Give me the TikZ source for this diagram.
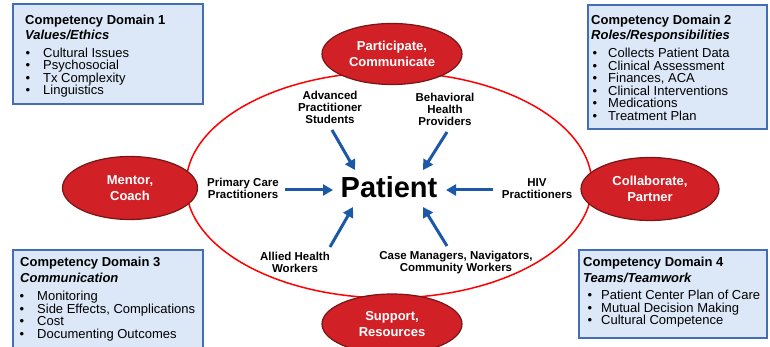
\documentclass[tikz,border=0pt]{standalone}
\usepackage{fontspec}
\setmainfont{Liberation Sans}
\usetikzlibrary{shapes.geometric,arrows.meta}
\definecolor{boxfill}{RGB}{220,232,248}
\definecolor{boxline}{RGB}{68,110,180}
\definecolor{redfill}{RGB}{210,32,39}
\definecolor{redline}{RGB}{120,22,22}
\definecolor{ringred}{RGB}{255,0,0}
\definecolor{arrblue}{RGB}{28,88,168}
\begin{document}
\begin{tikzpicture}[x=1pt,y=-1pt,
  dombox/.style={draw=boxline,fill=boxfill,line width=2pt,anchor=north west,inner sep=0pt},
  dtitle/.style={anchor=base west,inner sep=0pt,font=\fontsize{13}{15}\selectfont\bfseries},
  dsub/.style={anchor=base west,inner sep=0pt,font=\fontsize{13}{15}\selectfont\bfseries\itshape},
  ditem/.style={anchor=base west,inner sep=0pt,font=\fontsize{13}{15}\selectfont},
  dbul/.style={anchor=base,inner sep=0pt,font=\fontsize{13}{15}\selectfont},
  redell/.style={ellipse,draw=redline,fill=redfill,line width=1.2pt,text=white,
    align=center,inner sep=0pt,font=\fontsize{13}{16}\selectfont\bfseries},
  lbl/.style={align=center,inner sep=0pt,font=\fontsize{11.5}{12}\selectfont\bfseries},
  arr/.style={draw=arrblue,line width=3pt,-{Triangle[length=10pt,width=11pt]}}
]
\useasboundingbox (0,0) rectangle (770,347);
\clip (0,0) rectangle (770,347);
\fill[white] (0,0) rectangle (770,347);

% central ring
\node[ellipse,draw=ringred,line width=1.5pt,minimum width=406pt,minimum height=226pt,inner sep=0pt] (ring) at (389,185) {};

% red ellipses
\node[redell,minimum width=140pt,minimum height=61pt] (part) at (392,54) {Participate,\\Communicate};
\node[redell,minimum width=135pt,minimum height=63pt] (mentor) at (130,188) {Mentor,\\Coach};
\node[redell,minimum width=138pt,minimum height=63pt] (collab) at (650,189) {Collaborate,\\Partner};
\node[redell,minimum width=140pt,minimum height=60pt] (support) at (392,324) {Support,\\Resources};

% domain boxes
\node[dombox,minimum width=190pt,minimum height=100pt] (d1) at (12,3) {};
\node[dombox,minimum width=179pt,minimum height=124pt] (d2) at (587,4) {};
\node[dombox,minimum width=190pt,minimum height=110pt] (d3) at (12,249) {};
\node[dombox,minimum width=188pt,minimum height=88pt] (d4) at (578,249) {};

% box 1
\node[dtitle] (d1t) at (25,24.5) {Competency Domain 1};
\node[dsub] (d1s) at (25,40) {Values/Ethics};
\foreach \t [count=\i] in {Cultural Issues,Psychosocial,Tx Complexity,Linguistics}{
  \pgfmathsetmacro\yy{57.5+12.5*(\i-1)}
  \node[dbul] (d1b\i) at (28,\yy) {•};
  \node[ditem] (d1i\i) at (43,\yy) {\t};
}
% box 2
\node[dtitle] (d2t) at (591,24.5) {Competency Domain 2};
\node[dsub] (d2s) at (591,40) {Roles/Responsibilities};
\foreach \t [count=\i] in {Collects Patient Data,Clinical Assessment,{Finances, ACA},Clinical Interventions,Medications,Treatment Plan}{
  \pgfmathsetmacro\yy{57.5+12.6*(\i-1)}
  \node[dbul] (d2b\i) at (595,\yy) {•};
  \node[ditem] (d2i\i) at (608,\yy) {\t};
}
% box 3
\node[dtitle] (d3t) at (20,266.5) {Competency Domain 3};
\node[dsub] (d3s) at (20,282) {Communication};
\foreach \t [count=\i] in {Monitoring,{Side Effects, Complications},Cost,Documenting Outcomes}{
  \pgfmathsetmacro\yy{300.5+12.6*(\i-1)}
  \node[dbul] (d3b\i) at (22,\yy) {•};
  \node[ditem] (d3i\i) at (37,\yy) {\t};
}
% box 4
\node[dtitle] (d4t) at (583,266.5) {Competency Domain 4};
\node[dsub] (d4s) at (583,282) {Teams/Teamwork};
\foreach \t [count=\i] in {Patient Center Plan of Care,Mutual Decision Making,Cultural Competence}{
  \pgfmathsetmacro\yy{299.5+12.6*(\i-1)}
  \node[dbul] (d4b\i) at (590,\yy) {•};
  \node[ditem] (d4i\i) at (601,\yy) {\t};
}

% patient
\node[anchor=base,inner sep=0pt,font=\fontsize{29}{32}\selectfont\bfseries] (patient) at (389,198) {Patient};

% provider labels
\node[lbl] (aps) at (330,107) {Advanced\\Practitioner\\Students};
\node[lbl] (bhp) at (445,109) {Behavioral\\Health\\Providers};
\node[lbl] (pcp) at (243,188) {Primary Care\\Practitioners};
\node[lbl] (hiv) at (537,188.5) {HIV\\Practitioners};
\node[lbl] (ahw) at (295,262.5) {Allied Health\\Workers};
\node[lbl] (cmw) at (456,262.5) {Case Managers, Navigators,\\Community Workers};

% arrows
\coordinate (aTLs) at (332,130); \coordinate (aTLe) at (355,170);
\coordinate (aTRs) at (447,132); \coordinate (aTRe) at (423,170);
\coordinate (aLs) at (285,190);  \coordinate (aLe) at (333,190);
\coordinate (aRs) at (493,190);  \coordinate (aRe) at (446,190);
\coordinate (aBLs) at (330,247); \coordinate (aBLe) at (353,207);
\coordinate (aBRs) at (447,246); \coordinate (aBRe) at (423,207);
\draw[arr] (aTLs) -- (aTLe);
\draw[arr] (aTRs) -- (aTRe);
\draw[arr] (aLs) -- (aLe);
\draw[arr] (aRs) -- (aRe);
\draw[arr] (aBLs) -- (aBLe);
\draw[arr] (aBRs) -- (aBRe);
\end{tikzpicture}
\end{document}
